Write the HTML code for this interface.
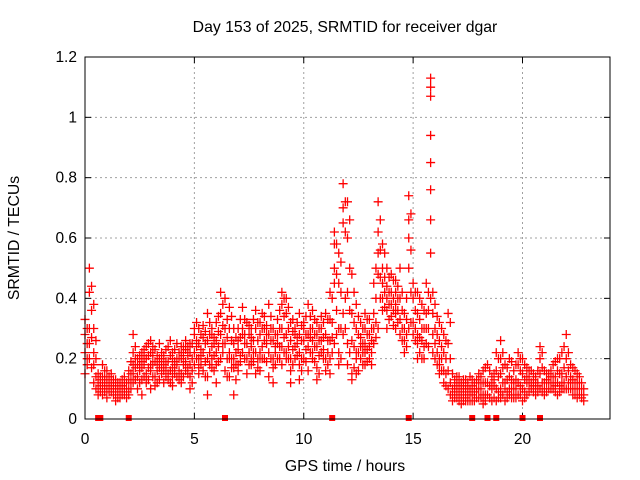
<!DOCTYPE html>
<html><head><meta charset="utf-8"><style>
body{margin:0;background:#fff}
svg{display:block;font-family:"Liberation Sans",sans-serif}
</style></head><body>
<svg id="chart" width="640" height="480" viewBox="0 0 640 480">
<rect width="640" height="480" fill="#fff"/>
<g id="grid"></g>
<g id="ticks"></g>
<g id="marks"></g>
<rect x="85" y="57" width="525" height="362" fill="none" stroke="#000" stroke-width="1"/>
<text x="345" y="32" text-anchor="middle" font-size="15.8">Day 153 of 2025, SRMTID for receiver dgar</text>
<text x="345" y="471" text-anchor="middle" font-size="15.8">GPS time / hours</text>
<text transform="translate(19,238) rotate(-90)" text-anchor="middle" font-size="15.8">SRMTID / TECUs</text>
</svg>
<script>
const xTicks=[0,5,10,15,20];
const yTicks=[0,0.2,0.4,0.6,0.8,1,1.2];
const yTickLabels=["0","0.2","0.4","0.6","0.8","1","1.2"];
const times=[0,0.2,0.4,0.6,0.8,1,1.2,1.4,1.6,1.8,2,2.2,2.4,2.6,2.8,3,3.2,3.4,3.6,3.8,4,4.2,4.4,4.6,4.8,5,5.2,5.4,5.6,5.8,6,6.2,6.4,6.6,6.8,7,7.2,7.4,7.6,7.8,8,8.2,8.4,8.6,8.8,9,9.2,9.4,9.6,9.8,10,10.2,10.4,10.6,10.8,11,11.2,11.4,11.6,11.8,12,12.2,12.4,12.6,12.8,13,13.2,13.4,13.6,13.8,14,14.2,14.4,14.6,14.8,15,15.2,15.4,15.6,15.8,16,16.2,16.4,16.6,16.8,17,17.2,17.4,17.6,17.8,18,18.2,18.4,18.6,18.8,19,19.2,19.4,19.6,19.8,20,20.2,20.4,20.6,20.8,21,21.2,21.4,21.6,21.8,22,22.2,22.4,22.6,22.8];
const values=[
[.33,.28,.22,.15],[.42,.5,.3,.2,.25],[.38,.3,.18,.22,.12],[.15,.12,.1,.08],[.12,.1,.14,.18,.08],
[.13,.1,.07,.16],[.1,.12,.09,.15],[.11,.08,.1,.13,.06],[.09,.12,.07,.1],[.1,.08,.12,.14],
[.1,.13,.16,.08],[.28,.22,.15,.12,.18],[.14,.18,.2,.1],[.17,.22,.13,.19,.08],[.2,.15,.24,.12],
[.16,.22,.18,.1,.26],[.19,.14,.23,.11],[.2,.17,.13,.25],[.16,.21,.12,.18],[.19,.24,.15,.13],
[.22,.17,.2,.11,.14],[.25,.18,.14,.2],[.2,.15,.22,.24,.12],[.23,.19,.16,.26],[.18,.22,.14,.25,.1],
[.28,.22,.3,.18],[.25,.2,.17,.3,.15],[.22,.27,.16,.31],[.35,.26,.2,.14,.08],[.3,.24,.2,.17,.28],
[.32,.22,.18,.26,.12],[.42,.35,.28,.2],[.4,.3,.25,.16],[.37,.3,.22,.14,.2],[.25,.2,.17,.3,.08],
[.3,.23,.18,.26,.16],[.37,.28,.22,.3],[.25,.2,.32,.15],[.3,.24,.2,.18,.27],[.36,.3,.22,.15],
[.28,.22,.32,.2,.16],[.34,.26,.2,.3],[.38,.28,.22,.14],[.3,.2,.26,.12,.17],[.33,.25,.28,.2],
[.42,.38,.3,.24,.18],[.35,.28,.4,.22,.2],[.32,.26,.2,.16,.12],[.3,.24,.2,.28],[.35,.28,.22,.18,.13],
[.3,.26,.2,.32],[.38,.28,.24,.16],[.36,.3,.26,.22,.2],[.32,.28,.24,.17,.13],[.3,.26,.22,.34],
[.35,.28,.2,.16],[.42,.33,.26,.2,.15],[.62,.58,.5,.45,.25],[.55,.45,.3,.22,.18],[.78,.7,.65,.35,.28],
[.72,.6,.42,.25,.18],[.48,.35,.26,.15,.13],[.38,.3,.22,.2,.15],[.32,.27,.24,.2],[.35,.3,.25,.22,.18],
[.33,.28,.24,.2],[.45,.35,.3,.25],[.72,.62,.55,.48,.3],[.58,.5,.45,.4,.36],[.5,.44,.4,.36,.3],
[.48,.42,.38,.34],[.46,.42,.38,.35,.3],[.5,.4,.33,.28],[.35,.3,.26,.22],[.74,.66,.6,.5,.3],
[.45,.4,.32,.28],[.42,.35,.28,.25,.2],[.38,.3,.26,.2],[.45,.35,.3,.25],[1.13,1.1,1.07,.94,.85,.76,.66,.55,.4],
[.38,.3,.25,.2],[.32,.26,.2,.18,.15],[.28,.22,.16,.12],[.35,.25,.16,.1],[.15,.1,.06,.08],
[.14,.1,.07,.12],[.12,.08,.05,.1],[.13,.1,.07,.06],[.1,.08,.06,.14],[.12,.09,.06],
[.15,.1,.07,.12],[.16,.12,.08,.05],[.18,.12,.08],[.14,.1,.06,.12],[.22,.16,.1,.06],
[.26,.2,.15,.1,.07],[.18,.12,.1,.06],[.2,.14,.1,.08],[.16,.12,.1,.07],[.22,.18,.12,.08],
[.2,.15,.1,.06],[.17,.12,.08,.14],[.16,.12,.1],[.14,.1,.08,.12],[.24,.2,.15,.1],
[.16,.12,.08,.1],[.15,.12,.1],[.18,.14,.1,.12],[.2,.16,.12,.08],[.22,.15,.12,.1],
[.28,.2,.14,.1],[.18,.14,.1,.12],[.16,.12,.1,.08],[.14,.1,.12,.08],[.1,.08,.06]];
const times2=[0.1,0.3,0.5,0.7,0.9,1.1,1.3,1.5,1.7,1.9,2.1,2.3,2.5,2.7,2.9,3.1,3.3,3.5,3.7,3.9,4.1,4.3,4.5,4.7,4.9,5.1,5.3,5.5,5.7,5.9,6.1,6.3,6.5,6.7,6.9,7.1,7.3,7.5,7.7,7.9,8.1,8.3,8.5,8.7,8.9,9.1,9.3,9.5,9.7,9.9,10.1,10.3,10.5,10.7,10.9,11.1,11.3,11.5,11.7,11.9,12.1,12.3,12.5,12.7,12.9,13.1,13.3,13.5,13.7,13.9,14.1,14.3,14.5,14.7,14.9,15.1,15.3,15.5,15.7,15.9,16.1,16.3,16.5,16.7,16.9,17.1,17.3,17.5,17.7,17.9,18.1,18.3,18.5,18.7,18.9,19.1,19.3,19.5,19.7,19.9,20.1,20.3,20.5,20.7,20.9,21.1,21.3,21.5,21.7,21.9,22.1,22.3,22.5,22.7];
const values2=[
[.3,.25,.18,.2],[.44,.36,.27,.17],[.26,.2,.14,.1],[.14,.11,.09,.13],[.11,.09,.13,.16],
[.12,.09,.14,.11],[.11,.08,.13,.1],[.1,.07,.12,.09],[.11,.08,.1,.13],[.09,.12,.1,.07],
[.12,.15,.1,.19],[.24,.17,.13,.2],[.16,.21,.12,.18],[.18,.14,.2,.23],[.17,.21,.13,.25],
[.18,.14,.21,.24],[.21,.16,.12,.19],[.18,.22,.15,.2],[.14,.19,.23,.17],[.21,.16,.26,.12],
[.19,.23,.15,.18],[.22,.16,.2,.13],[.18,.24,.14,.21],[.21,.17,.24,.15],[.2,.25,.16,.12],
[.26,.2,.32,.24],[.23,.18,.28,.21],[.25,.19,.29,.14],[.28,.22,.18,.32],[.27,.21,.16,.25],
[.29,.24,.19,.34],[.38,.31,.25,.22],[.33,.27,.2,.14],[.34,.26,.2,.17],[.22,.18,.27,.13],
[.27,.21,.33,.19],[.33,.25,.2,.28],[.28,.22,.18,.31],[.26,.22,.33,.19],[.32,.26,.2,.17],
[.3,.24,.2,.35],[.31,.25,.19,.28],[.34,.26,.2,.3],[.28,.22,.18,.24],[.36,.3,.24,.2],
[.4,.34,.27,.22],[.37,.3,.24,.2],[.29,.23,.18,.33],[.32,.27,.21,.25],[.31,.26,.2,.16],
[.28,.23,.34,.19],[.34,.27,.22,.3],[.33,.28,.24,.19],[.3,.26,.21,.15],[.32,.27,.23,.2],
[.33,.26,.22,.18],[.4,.32,.27,.22],[.58,.48,.36,.28],[.52,.42,.3,.2],[.72,.62,.4,.3],
[.66,.5,.36,.22],[.42,.32,.24,.17],[.34,.28,.22,.16],[.3,.25,.22,.18],[.33,.28,.23,.19],
[.3,.26,.22,.18],[.5,.4,.32,.27],[.66,.56,.47,.4],[.55,.47,.42,.37],[.47,.42,.38,.33],
[.46,.4,.36,.31],[.44,.4,.36,.32],[.42,.36,.3,.26],[.4,.33,.28,.24],[.68,.56,.42,.32],
[.42,.36,.3,.26],[.4,.33,.27,.22],[.36,.3,.24,.2],[.42,.36,.3,.24],[.42,.35,.28,.22],
[.34,.28,.22,.18],[.3,.24,.2,.16],[.26,.2,.15,.11],[.32,.2,.12,.08],[.13,.09,.07,.11],
[.12,.09,.06,.14],[.11,.08,.06,.13],[.12,.09,.06,.1],[.11,.08,.06,.13],[.13,.1,.07],
[.14,.1,.07,.12],[.17,.12,.08,.06],[.16,.11,.07],[.15,.11,.07,.13],[.2,.14,.09,.07],
[.22,.17,.12,.08],[.17,.13,.09,.07],[.19,.13,.1,.07],[.18,.13,.1,.07],[.2,.16,.11,.08],
[.18,.13,.09,.07],[.16,.12,.09,.14],[.15,.11,.09,.13],[.16,.12,.09,.11],[.22,.17,.12,.09],
[.15,.12,.09,.13],[.16,.12,.1,.14],[.19,.14,.11,.09],[.2,.15,.11,.09],[.24,.17,.12,.1],
[.22,.16,.12,.1],[.17,.13,.1,.08],[.15,.12,.1,.07],[.12,.1,.08,.07]];
const zeroTimes=[0.6,0.7,2.0,6.4,11.3,14.8,17.7,18.4,18.8,20.0,20.8];

const NS="http://www.w3.org/2000/svg";
const X0=85,X1=610,Y0=419,Y1=57,XMAX=24,YMAX=1.2;
const sx=t=>X0+(t/XMAX)*(X1-X0);
const sy=v=>Y0-(v/YMAX)*(Y0-Y1);
function mk(tag,attrs,parent){const e=document.createElementNS(NS,tag);for(const k in attrs)e.setAttribute(k,attrs[k]);parent.appendChild(e);return e;}
const grid=document.getElementById('grid'),ticks=document.getElementById('ticks'),marks=document.getElementById('marks');
xTicks.forEach(t=>{
  const x=sx(t);
  if(t>0){const g=mk('line',{x1:x,x2:x,y1:Y1,y2:Y0,stroke:'#a0a0a0','stroke-dasharray':'2,3'},grid);
  
  }
  mk('line',{x1:x,x2:x,y1:Y0,y2:Y0-6,stroke:'#000'},ticks);
  mk('line',{x1:x,x2:x,y1:Y1,y2:Y1+6,stroke:'#000'},ticks);
  const tx=mk('text',{x:x,y:Y0+25,'text-anchor':'middle','font-size':'15.5'},ticks);
  tx.textContent=String(t);
  
  
});
yTicks.forEach((v,i)=>{
  const y=sy(v);
  if(v>0&&v<YMAX){const g=mk('line',{x1:X0,x2:X1,y1:y,y2:y,stroke:'#a0a0a0','stroke-dasharray':'2,3'},grid);
  
  }
  mk('line',{x1:X0,x2:X0+6,y1:y,y2:y,stroke:'#000'},ticks);
  mk('line',{x1:X1,x2:X1-6,y1:y,y2:y,stroke:'#000'},ticks);
  const tx=mk('text',{x:X0-8,y:y+5,'text-anchor':'end','font-size':'15.5'},ticks);
  tx.textContent=yTickLabels[i];
  
  
});
let d='';
function addGroups(ts,vs){
  ts.forEach((t,i)=>{
    vs[i].forEach(v=>{const x=sx(t),y=sy(v);d+=`M${x-4.5},${y}h9M${x},${y-4.5}v9`;});
  });
}
addGroups(times,values);
addGroups(times2,values2);
const p=mk('path',{d:d,stroke:'#ff0000','stroke-width':'1.3',fill:'none'},marks);


zeroTimes.forEach(t=>{
  const r=mk('rect',{x:sx(t)-3,y:Y0-4,width:6,height:6,fill:'#ff0000'},marks);
  
  
});
</script>
</body></html>
